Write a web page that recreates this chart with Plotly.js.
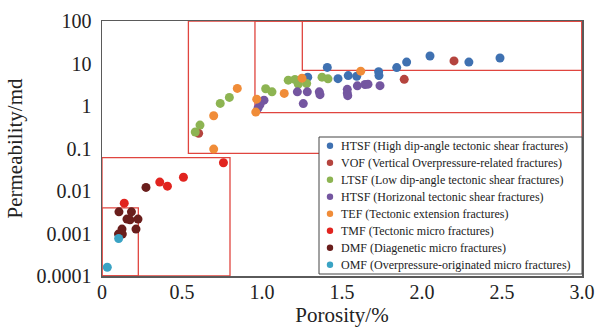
<!DOCTYPE html>
<html>
<head>
<meta charset="utf-8">
<script src="https://cdn.plot.ly/plotly-3.0.1.min.js"></script>
<style>html,body{margin:0;padding:0;background:#fff;}#chart{width:598px;height:329px;}</style>
</head>
<body>
<div id="chart"></div>
<script>
// ---- data (porosity %, permeability md) ----
const seriesNames = [
  "HTSF (High dip-angle tectonic shear fractures)",
  "VOF (Vertical Overpressure-related fractures)",
  "LTSF (Low dip-angle tectonic shear fractures)",
  "HTSF (Horizonal tectonic shear fractures)",
  "TEF (Tectonic extension fractures)",
  "TMF (Tectonic micro fractures)",
  "DMF (Diagenetic micro fractures)",
  "OMF (Overpressure-originated micro fractures)"
];
const htsfX = [1.286, 1.408, 1.475, 1.539, 1.592, 1.729, 1.731, 1.842, 1.904, 2.05, 2.293, 2.4875];
const htsfY = [4.77, 8.1, 4.4, 5.2, 5.0, 6.4, 5.2, 8.0, 10.8, 15.0, 10.8, 13.5];
const vofX = [0.604, 1.889, 2.2];
const vofY = [0.227, 4.24, 11.5];
const ltsfX = [0.583, 0.6125, 0.739, 0.796, 1.023, 1.0625, 1.164, 1.206, 1.227, 1.279, 1.375, 1.4125];
const ltsfY = [0.244, 0.356, 1.15, 1.59, 2.54, 2.15, 4.05, 4.2, 3.27, 3.39, 4.77, 4.35];
const hzsfX = [1.0125, 0.9875, 0.975, 1.221, 1.283, 1.258, 1.358, 1.3625, 1.533, 1.533, 1.536, 1.596, 1.644, 1.6625, 1.7375];
const hzsfY = [1.37, 1.08, 0.89, 2.15, 2.15, 1.14, 2.15, 1.85, 2.47, 2.01, 1.75, 2.98, 3.21, 3.27, 3.01];
const tefX = [0.8456, 0.698, 0.698, 0.967, 0.961, 1.139, 1.25, 1.617];
const tefY = [2.59, 0.589, 0.097, 1.45, 0.72, 1.98, 4.52, 6.6];
const tmfX = [0.759, 0.509, 0.409, 0.361, 0.139];
const tmfY = [0.0461, 0.0211, 0.0130, 0.0162, 0.00518];
const dmfX = [0.275, 0.106, 0.184, 0.156, 0.175, 0.225, 0.125, 0.2125, 0.103, 0.127];
const dmfY = [0.01216, 0.00323, 0.00323, 0.00218, 0.0021, 0.00218, 0.00127, 0.00127, 0.00097, 0.00097];
const omfX = [0.104, 0.033];
const omfY = [0.000764, 0.000161];

// region boundaries (porosity %, permeability md)
const boxX0 = [0, 0, 0.54, 0.956, 1.252];
const boxX1 = [0.227, 0.8, 3, 3, 3];
const boxY0 = [0.0001, 0.0001, 0.077, 0.70, 6.9];
const boxY1 = [0.004, 0.061, 100, 100, 100];

const xTickVals = [0, 0.5, 1.0, 1.5, 2.0, 2.5, 3.0];
const xTickText = ["0", "0.5", "1.0", "1.5", "2.0", "2.5", "3.0"];
const yTickVals = [0.0001, 0.001, 0.01, 0.1, 1, 10, 100];
const yTickText = ["0.0001", "0.001", "0.01", "0.1", "1", "10", "100"];

// ---- styling ----
const colors = ["#3f71b1", "#b5443e", "#8db452", "#7456a0", "#f08c38", "#e1241f", "#6a1e1c", "#3aa3c4"];
const xs = [htsfX, vofX, ltsfX, hzsfX, tefX, tmfX, dmfX, omfX];
const ys = [htsfY, vofY, ltsfY, hzsfY, tefY, tmfY, dmfY, omfY];

const traces = seriesNames.map((n, i) => ({
  type: "scatter", mode: "markers", name: n,
  x: xs[i], y: ys[i],
  marker: {color: colors[i], size: 9, line: {width: 0}}
}));

const shapes = boxX0.map((x0, i) => ({
  type: "rect", xref: "x", yref: "y",
  x0: x0, x1: boxX1[i], y0: boxY0[i], y1: boxY1[i],
  line: {color: "#e0453f", width: 1.3}, fillcolor: "rgba(0,0,0,0)", layer: "below"
}));

// ---- hand-placed legend box (plot area: 102..582 px wide, 21..276 px tall) ----
const W = 480, H = 255, L = 102, B = 276;
const px = v => (v - L) / W;
const py = v => (B - v) / H;
shapes.push({
  type: "rect", xref: "paper", yref: "paper",
  x0: px(319), x1: px(582), y0: py(274), y1: py(137),
  line: {color: "#444", width: 1}, fillcolor: "#fff", layer: "above"
});
const annotations = [];
seriesNames.forEach((n, i) => {
  const yc = py(145.7 + 17 * i);
  shapes.push({
    type: "circle", xref: "paper", yref: "paper",
    xsizemode: "pixel", ysizemode: "pixel",
    xanchor: px(330), yanchor: yc, x0: -3.2, x1: 3.2, y0: -3.2, y1: 3.2,
    fillcolor: colors[i], line: {width: 0}, layer: "above"
  });
  annotations.push({
    xref: "paper", yref: "paper", x: px(339), y: yc,
    xanchor: "left", yanchor: "middle", showarrow: false,
    text: n, font: {family: "Liberation Serif, Times New Roman, serif", size: 12, color: "#222"}
  });
});

const serif = "Liberation Serif, Times New Roman, serif";
const layout = {
  width: 598, height: 329,
  margin: {l: 102, r: 16, t: 21, b: 53},
  paper_bgcolor: "#fff", plot_bgcolor: "#fff",
  font: {family: serif, color: "#222"},
  showlegend: false,
  xaxis: {
    range: [0, 3], tickvals: xTickVals, ticktext: xTickText,
    showgrid: false, zeroline: false, ticks: "",
    showline: true, mirror: true, linecolor: "#5a5a5a", linewidth: 1.5,
    ticklabelstandoff: -3,
    tickfont: {family: serif, size: 20, color: "#222"},
    title: {text: "Porosity/%", font: {family: serif, size: 21, color: "#222"}, standoff: 6}
  },
  yaxis: {
    type: "log", range: [-4, 2], tickvals: yTickVals, ticktext: yTickText,
    showgrid: false, zeroline: false, ticks: "",
    showline: true, mirror: true, linecolor: "#5a5a5a", linewidth: 1.5,
    ticklabelstandoff: 5,
    tickfont: {family: serif, size: 20, color: "#222"},
    title: {text: "Permeability/md", font: {family: serif, size: 21, color: "#222"}, standoff: 8}
  },
  shapes: shapes,
  annotations: annotations
};

Plotly.newPlot("chart", traces, layout, {staticPlot: true, displayModeBar: false});
</script>
</body>
</html>
